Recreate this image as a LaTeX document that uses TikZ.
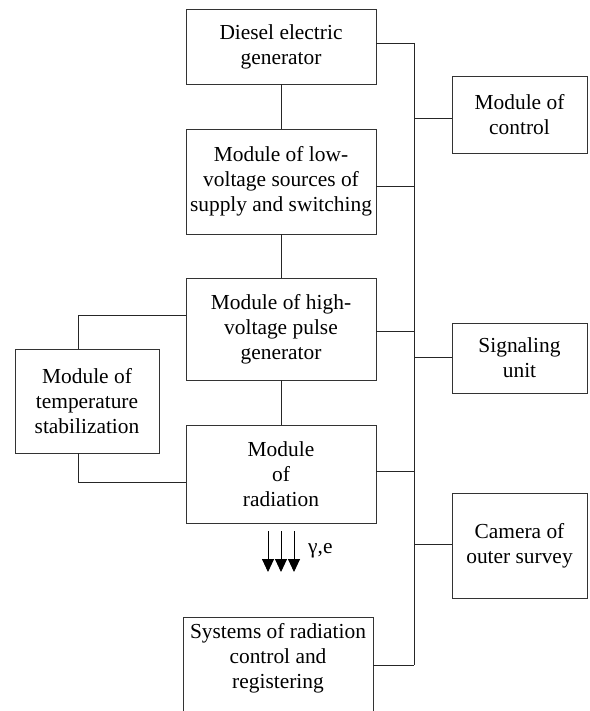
\documentclass[tikz,border=0pt]{standalone}
\usepackage{fontspec}
\setmainfont{Liberation Serif}
\usetikzlibrary{arrows.meta}
\tikzset{
  txt/.style={inner sep=0pt, align=center, font=\fontsize{21.4}{25}\selectfont},
  blk/.style={txt, draw=black!80, line width=0.9pt},
  wire/.style={draw=black!85, line width=0.9pt},
  ray/.style={draw=black, line width=0.9pt, -{Triangle[length=13pt,width=12pt]}}
}
\begin{document}
\begin{tikzpicture}[x=1pt,y=-1pt]
\useasboundingbox (0,0) rectangle (589,711);
\fill[white] (0,0) rectangle (589,711);
\clip (0,0) rectangle (589,711);
% blocks
\node[blk, minimum width=190pt, minimum height=75pt] (diesel) at (281,46.5) {Diesel electric\\generator};
\node[blk, minimum width=190pt, minimum height=105pt] (lv) at (281,181.5) {Module of low-\\voltage sources of\\supply and switching};
\node[blk, minimum width=190pt, minimum height=102pt] (hv) at (281,329) {Module of high-\\voltage pulse\\generator};
\node[blk, minimum width=190pt, minimum height=98pt] (rad) at (281,474) {Module\\of\\radiation};
\node[blk, minimum width=144pt, minimum height=104pt] (temp) at (87,401) {Module of\\temperature\\stabilization};
\node[blk, minimum width=190pt, minimum height=120pt, anchor=north] (sys) at (278,617) {};
\node[txt, anchor=north] (systxt) at (278,623) {Systems of radiation\\control and\\registering};
\node[blk, minimum width=135pt, minimum height=77pt] (ctrl) at (519.5,114.5) {Module of\\control};
\node[blk, minimum width=135pt, minimum height=70pt] (sig) at (519.5,358) {Signaling\\unit};
\node[blk, minimum width=135pt, minimum height=105pt] (cam) at (519.5,545.5) {Camera of\\outer survey};
% bus coordinates
\coordinate (b0) at (414,43);
\coordinate (b1) at (414,118);
\coordinate (b2) at (414,186);
\coordinate (b3) at (414,331);
\coordinate (b4) at (414,357);
\coordinate (b5) at (414,471);
\coordinate (b6) at (414,544);
\coordinate (b7) at (414,665);
\coordinate (t1) at (78,315);
\coordinate (t2) at (78,482);
% bus
\draw[wire] (b0) -- (b7);
\draw[wire] (diesel.east |- b0) -- (b0);
\draw[wire] (lv.east |- b2) -- (b2);
\draw[wire] (hv.east |- b3) -- (b3);
\draw[wire] (rad.east |- b5) -- (b5);
\draw[wire] (sys.east |- b7) -- (b7);
\draw[wire] (b1) -- (ctrl.west |- b1);
\draw[wire] (b4) -- (sig.west |- b4);
\draw[wire] (b6) -- (cam.west |- b6);
% chain
\draw[wire] (diesel.south) -- (lv.north);
\draw[wire] (lv.south) -- (hv.north);
\draw[wire] (hv.south) -- (rad.north);
% temperature loop
\draw[wire] (hv.west |- t1) -- (t1) -- (t1 |- temp.north);
\draw[wire] (t1 |- temp.south) -- (t2) -- (rad.west |- t2);
% radiation arrows
\coordinate (a1) at (268,531);
\coordinate (a2) at (281,531);
\coordinate (a3) at (294,531);
\draw[ray] (a1) -- ++(0,41);
\draw[ray] (a2) -- ++(0,41);
\draw[ray] (a3) -- ++(0,41);
\node[txt, anchor=west] (ge) at (308,551) {γ,e};
\end{tikzpicture}
\end{document}
